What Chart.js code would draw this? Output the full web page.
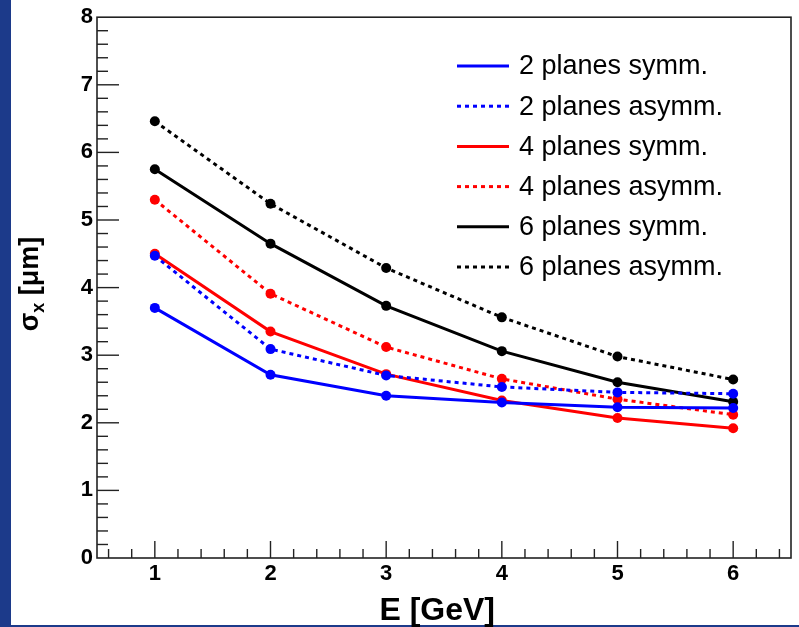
<!DOCTYPE html>
<html>
<head>
<meta charset="utf-8">
<script src="https://cdn.jsdelivr.net/npm/chart.js@4.4.1/dist/chart.umd.min.js"></script>
<style>
  html, body { margin: 0; padding: 0; background: #fff; }
  #wrap { position: relative; width: 799px; height: 627px; overflow: hidden; }
  #leftbar { position: absolute; left: 0; top: 0; width: 11px; height: 627px; background: #1c3a8a; }
  #bottombar { position: absolute; left: 0; top: 625px; width: 799px; height: 2px; background: #1c3a8a; }
  canvas { position: absolute; left: 0; top: 0; }
</style>
</head>
<body>
<div id="wrap">
  <div id="leftbar"></div>
  <div id="bottombar"></div>
  <canvas id="chart" width="799" height="627"></canvas>
</div>
<script>
// ---- data ----
const energies = [1, 2, 3, 4, 5, 6];
const sym2  = [3.70, 2.71, 2.40, 2.30, 2.23, 2.22];
const asym2 = [4.47, 3.09, 2.70, 2.53, 2.45, 2.43];
const sym4  = [4.50, 3.35, 2.72, 2.33, 2.07, 1.92];
const asym4 = [5.30, 3.91, 3.12, 2.65, 2.35, 2.12];
const sym6  = [5.75, 4.65, 3.73, 3.06, 2.60, 2.31];
const asym6 = [6.46, 5.24, 4.29, 3.56, 2.98, 2.64];
const seriesLabels = ['2 planes symm.', '2 planes asymm.', '4 planes symm.', '4 planes asymm.', '6 planes symm.', '6 planes asymm.'];
const xTickLabels = ['1', '2', '3', '4', '5', '6'];
const yTickLabels = ['0', '1', '2', '3', '4', '5', '6', '7', '8'];
const xTitle = 'E [GeV]';

const series = [sym2, asym2, sym4, asym4, sym6, asym6];
const colors = ['#0000ff', '#0000ff', '#ff0000', '#ff0000', '#000000', '#000000'];

function makeDataset(vals, i) {
  const dashed = i % 2 === 1;
  return {
    label: seriesLabels[i],
    data: vals.map((v, k) => ({ x: energies[k], y: v })),
    borderColor: colors[i],
    backgroundColor: colors[i],
    borderWidth: 3,
    borderDash: dashed ? [4, 4] : [],
    pointRadius: 5,
    pointBorderWidth: 0,
    pointBackgroundColor: colors[i],
    tension: 0,
    fill: false
  };
}

// ---- frame + inward ticks (ROOT style) ----
const framePlugin = {
  id: 'frame',
  afterDraw(chart) {
    const { ctx, chartArea: a, scales } = chart;
    const xs = scales.x, ys = scales.y;
    ctx.save();
    ctx.strokeStyle = '#222';
    ctx.lineWidth = 1.6;
    ctx.setLineDash([]);
    ctx.strokeRect(a.left, a.top, a.right - a.left, a.bottom - a.top);
    ctx.lineWidth = 1.4;
    // x ticks every 0.2, major every 1
    for (let k = 3; k <= 32; k++) {
      const v = k / 5;
      if (v <= xs.min || v >= xs.max) continue;
      const px = xs.getPixelForValue(v);
      const len = (k % 5 === 0) ? 17 : 9;
      ctx.beginPath();
      ctx.moveTo(px, a.bottom);
      ctx.lineTo(px, a.bottom - len);
      ctx.stroke();
    }
    // y ticks every 0.2, major every 1
    for (let k = 1; k < 40; k++) {
      const py = ys.getPixelForValue(k / 5);
      const len = (k % 5 === 0) ? 22 : 11;
      ctx.beginPath();
      ctx.moveTo(a.left, py);
      ctx.lineTo(a.left + len, py);
      ctx.stroke();
    }
    ctx.restore();
  }
};

// ---- axis titles and legend ----
const textPlugin = {
  id: 'texts',
  afterDraw(chart) {
    const { ctx } = chart;
    ctx.save();
    ctx.fillStyle = '#000';

    // x title
    ctx.font = 'bold 32px "Liberation Sans", Arial, sans-serif';
    ctx.textAlign = 'right';
    ctx.textBaseline = 'alphabetic';
    ctx.fillText(xTitle, 495, 620);

    // y title: sigma with subscript x
    ctx.translate(38, 284);
    ctx.rotate(-Math.PI / 2);
    const big = 'bold 27px "Liberation Sans", Arial, sans-serif';
    const small = 'bold 18px "Liberation Sans", Arial, sans-serif';
    ctx.textAlign = 'left';
    ctx.font = big;
    const w1 = ctx.measureText('σ').width;
    const w3 = ctx.measureText(' [μm]').width;
    ctx.font = small;
    const w2 = ctx.measureText('x').width;
    let x0 = -(w1 + w2 + w3) / 2;
    ctx.font = big;
    ctx.fillText('σ', x0, 0);
    ctx.font = small;
    ctx.fillText('x', x0 + w1, 6);
    ctx.font = big;
    ctx.fillText(' [μm]', x0 + w1 + w2, 0);
    ctx.restore();

    // legend
    ctx.save();
    ctx.font = '27px "Liberation Sans", Arial, sans-serif';
    ctx.textAlign = 'left';
    ctx.textBaseline = 'middle';
    chart.data.datasets.forEach((ds, i) => {
      const y = 66 + i * 40.2;
      ctx.strokeStyle = ds.borderColor;
      ctx.lineWidth = 3;
      ctx.setLineDash(ds.borderDash);
      ctx.beginPath();
      ctx.moveTo(457, y);
      ctx.lineTo(509, y);
      ctx.stroke();
      ctx.setLineDash([]);
      ctx.fillStyle = '#000';
      ctx.fillText(ds.label, 519, y + 1);
    });
    ctx.restore();
  }
};

new Chart(document.getElementById('chart'), {
  type: 'line',
  data: { datasets: series.map(makeDataset) },
  options: {
    responsive: false,
    animation: false,
    layout: { padding: { top: 14, right: 8, left: 0, bottom: 0 } },
    plugins: { legend: { display: false }, tooltip: { enabled: false } },
    scales: {
      x: {
        type: 'linear',
        min: 0.5,
        max: 6.5,
        afterFit: s => { s.height = 69; },
        afterBuildTicks: s => { s.ticks = energies.map(v => ({ value: v })); },
        grid: { display: false, drawTicks: false },
        border: { display: false },
        ticks: {
          padding: 3,
          color: '#000',
          autoSkip: false,
          maxRotation: 0,
          font: { family: '"Liberation Sans", Arial, sans-serif', size: 22, weight: 'bold' },
          callback: v => xTickLabels[energies.indexOf(v)] ?? ''
        }
      },
      y: {
        type: 'linear',
        min: 0,
        max: 8,
        afterFit: s => { s.width = 97; },
        grid: { display: false, drawTicks: false },
        border: { display: false },
        ticks: {
          stepSize: 1,
          padding: 4,
          color: '#000',
          font: { family: '"Liberation Sans", Arial, sans-serif', size: 22, weight: 'bold' },
          callback: v => yTickLabels[v] ?? ''
        }
      }
    }
  },
  plugins: [framePlugin, textPlugin]
});
</script>
</body>
</html>
